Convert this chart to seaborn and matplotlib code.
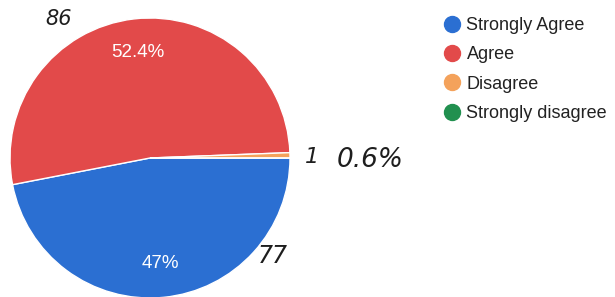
import matplotlib
matplotlib.use("Agg")
import matplotlib.pyplot as plt
import seaborn as sns
from matplotlib.lines import Line2D

categories = ["Strongly Agree", "Agree", "Disagree", "Strongly disagree"]
counts = [77, 86, 1, 0]
colors = ["#2b6fd2", "#e24a4a", "#f4a25b", "#21904f"]
note_counts = ["77", "86", "1"]
note_pct = "0.6%"

sns.set_theme(style="white")
plt.rcParams["font.family"] = ["Liberation Sans", "DejaVu Sans"]

fig = plt.figure(figsize=(6.15, 2.97), dpi=100)
ax = fig.add_axes([10 / 615, (297 - 158 - 140) / 297, 280 / 615, 280 / 297])


def fmt(p):
    if p < 1:
        return ""
    s = f"{p:.1f}"
    if s.endswith(".0"):
        s = s[:-2]
    return s + "%"


wedges, texts, autotexts = ax.pie(
    counts, colors=colors, startangle=0, counterclock=False,
    autopct=fmt, pctdistance=0.76,
    wedgeprops=dict(edgecolor="white", linewidth=1.0),
    textprops=dict(color="white", fontsize=13.5),
    frame=False,
)
ax.set_xlim(-1, 1)
ax.set_ylim(-1, 1)
ax.set_aspect("auto")

handles = [Line2D([0], [0], marker="o", linestyle="", markersize=11.5,
                  markerfacecolor=c, markeredgecolor=c) for c in colors]
fig.legend(handles, categories, loc="upper left",
           bbox_to_anchor=(443 / 615, 1 - 17 / 297), frameon=False,
           fontsize=13, handletextpad=0.3, labelspacing=0.68,
           handlelength=1.0, borderaxespad=0, borderpad=0,
           labelcolor="#222222")

hand = dict(color="#1e1e1e", style="italic", family="DejaVu Sans")
fig.text(45 / 615, 1 - 19 / 297, note_counts[1], va="center", ha="left", fontsize=15, **hand)
fig.text(258 / 615, 1 - 256 / 297, note_counts[0], va="center", ha="left", fontsize=17, **hand)
fig.text(305 / 615, 1 - 157 / 297, note_counts[2], va="center", ha="left", fontsize=16, **hand)
fig.text(337 / 615, 1 - 160 / 297, note_pct, va="center", ha="left", fontsize=19, **hand)

fig.savefig("out.png", dpi=100)
